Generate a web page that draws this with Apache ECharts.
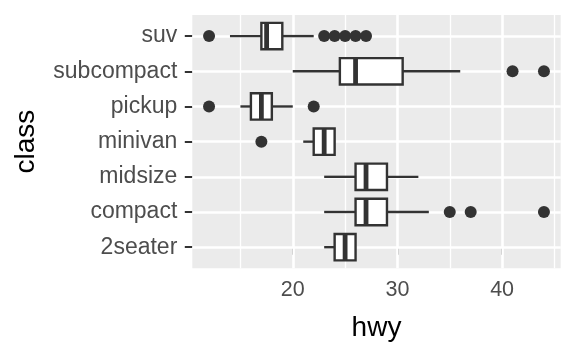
<!DOCTYPE html>
<html><head><meta charset="utf-8">
<script src="https://cdn.jsdelivr.net/npm/echarts@6/dist/echarts.min.js"></script>
<style>html,body{margin:0;padding:0;background:#fff}#c{width:576px;height:355px}</style>
</head><body><div id="c"></div>
<script>
// ---- data ----
const classes = ['2seater','compact','midsize','minivan','pickup','subcompact','suv'];
const hwyMin    = [23, 23, 23, 21, 15, 20,   14];
const hwyQ1     = [24, 26, 26, 22, 16, 24.5, 17];
const hwyMedian = [25, 27, 27, 23, 17, 26,   17.5];
const hwyQ3     = [26, 29, 29, 24, 18, 30.5, 19];
const hwyMax    = [26, 33, 32, 24, 20, 36,   22];
const outlierClass = ['compact','compact','compact','minivan','pickup','pickup','subcompact','subcompact','suv','suv','suv','suv','suv','suv'];
const outlierHwy   = [35, 37, 44, 17, 12, 22, 41, 44, 12, 23, 24, 25, 26, 27];
const xTickValues = [20, 30, 40];
const xMinorGrid  = [15, 25, 35, 45];

// ---- build ----
const FONT = '"Liberation Sans", Arial, Helvetica, sans-serif';
const INK = '#333333';
const yIdx = classes.map((c, i) => i);
const boxData = classes.map((c, i) => [i, hwyMin[i], hwyQ1[i], hwyMedian[i], hwyQ3[i], hwyMax[i]]);
const outlierData = outlierHwy.map((v, i) => [v, classes.indexOf(outlierClass[i])]);

function renderBox(params, api) {
  const y = api.value(0);
  const lo = api.coord([api.value(1), y]);
  const q1 = api.coord([api.value(2), y]);
  const md = api.coord([api.value(3), y]);
  const q3 = api.coord([api.value(4), y]);
  const hi = api.coord([api.value(5), y]);
  const h = api.size([0, 1])[1] * 0.75;
  const cy = lo[1];
  const lw = 2.4;
  return { type: 'group', children: [
    { type: 'line', shape: { x1: lo[0], y1: cy, x2: q1[0], y2: cy }, style: { stroke: INK, lineWidth: lw } },
    { type: 'line', shape: { x1: q3[0], y1: cy, x2: hi[0], y2: cy }, style: { stroke: INK, lineWidth: lw } },
    { type: 'rect', shape: { x: q1[0], y: cy - h / 2, width: q3[0] - q1[0], height: h }, style: { fill: '#ffffff', stroke: INK, lineWidth: lw } },
    { type: 'line', shape: { x1: md[0], y1: cy - h / 2, x2: md[0], y2: cy + h / 2 }, style: { stroke: INK, lineWidth: lw * 2 } }
  ]};
}

const gridLines = []
  .concat(xMinorGrid.map(v => ({ xAxis: v, lineStyle: { width: 1.3 } })))
  .concat(xTickValues.map(v => ({ xAxis: v, lineStyle: { width: 2.6 } })))
  .concat(yIdx.map(v => ({ yAxis: v, lineStyle: { width: 2.6 } })));

const chart = echarts.init(document.getElementById('c'), null, { renderer: 'canvas' });
chart.setOption({
  animation: false,
  backgroundColor: '#ffffff',
  textStyle: { fontFamily: FONT },
  grid: { left: 192.3, right: 15.3, top: 15, bottom: 86.7, show: true, backgroundColor: '#EBEBEB', borderWidth: 0 },
  xAxis: {
    type: 'value', min: 10.4, max: 45.6,
    name: 'hwy', nameLocation: 'middle', nameGap: 46,
    nameTextStyle: { fontSize: 28, color: '#000000', fontFamily: FONT },
    axisLine: { show: false },
    axisTick: { show: true, customValues: xTickValues, length: 7.5, lineStyle: { color: INK, width: 2 } },
    axisLabel: { customValues: xTickValues, fontSize: 21.5, color: '#4D4D4D', margin: 11, fontFamily: FONT },
    splitLine: { show: false }
  },
  yAxis: {
    type: 'value', min: -0.6, max: 6.6,
    name: 'class', nameLocation: 'middle', nameRotate: 90, nameGap: 152,
    nameTextStyle: { fontSize: 28, color: '#000000', fontFamily: FONT },
    axisLine: { show: false },
    axisTick: { show: true, customValues: yIdx, length: 7.5, lineStyle: { color: INK, width: 2 } },
    axisLabel: { customValues: yIdx, fontSize: 23, color: '#4D4D4D', margin: 15, fontFamily: FONT,
      formatter: v => classes[Math.round(v)] },
    splitLine: { show: false }
  },
  series: [
    { type: 'scatter', data: [], z: 1, zlevel: 0, silent: true,
      markLine: { silent: true, symbol: 'none', label: { show: false }, animation: false,
        lineStyle: { color: '#ffffff', type: 'solid' }, data: gridLines } },
    { type: 'custom', zlevel: 1, z: 2, data: boxData, renderItem: renderBox, encode: { x: [1, 2, 3, 4, 5], y: 0 }, silent: true },
    { type: 'scatter', zlevel: 1, z: 3, data: outlierData, symbolSize: 12, itemStyle: { color: INK, opacity: 1 }, silent: true }
  ]
});
</script></body></html>
